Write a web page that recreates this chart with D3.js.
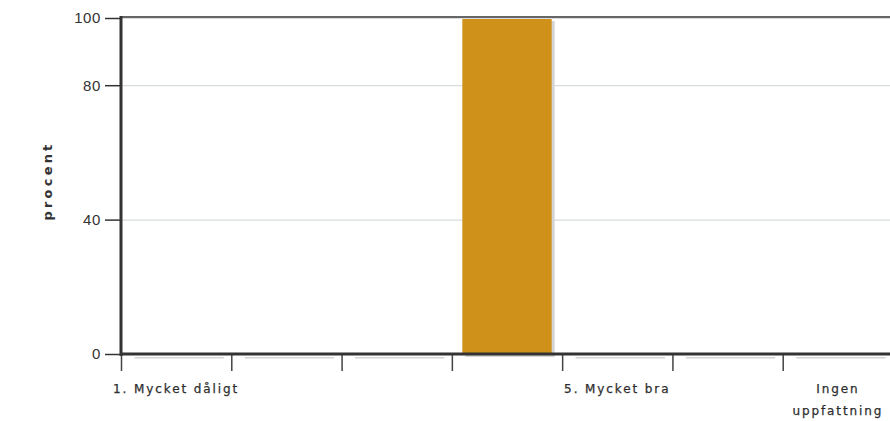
<!DOCTYPE html>
<html>
<head>
<meta charset="utf-8">
<script src="https://cdn.jsdelivr.net/npm/d3@7"></script>
<style>
  body { margin: 0; background: #fff; }
  svg text { font-family: "DejaVu Sans", sans-serif; fill: #333; }
</style>
</head>
<body>
<svg id="chart" width="890" height="421"></svg>
<script>
// data
const categories = ["1. Mycket dåligt", "", "", "", "5. Mycket bra", "", "Ingen uppfattning"];
const values = [0, 0, 0, 100, 0, 0, 0];
const yTicks = [0, 40, 80, 100];

const svg = d3.select("#chart");
const plotLeft = 121, plotRight = 893, plotTop = 18, plotBottom = 354;

const x = d3.scaleBand()
  .domain(d3.range(categories.length))
  .range([plotLeft, plotRight])
  .paddingInner(0.19)
  .paddingOuter(0.095);
const xb = d3.scaleBand().domain(d3.range(categories.length)).range([plotLeft, plotRight]);
const y = d3.scaleLinear().domain([0, 100]).range([plotBottom, plotTop]);

// grid
svg.append("g")
  .selectAll("line")
  .data(yTicks.filter((d) => d > 0))
  .join("line")
  .attr("x1", plotLeft).attr("x2", 890)
  .attr("y1", (d) => y(d) + 0.5).attr("y2", (d) => y(d) + 0.5)
  .attr("stroke", "#d8dde0").attr("stroke-width", 1.2);

// top frame
svg.append("line")
  .attr("x1", plotLeft).attr("x2", 890)
  .attr("y1", plotTop - 1).attr("y2", plotTop - 1)
  .attr("stroke", "#666").attr("stroke-width", 2);

// bar shadows (zero bars still leave a thin grey line under the axis)
svg.append("g")
  .selectAll("rect")
  .data(values)
  .join("rect")
  .attr("x", (d, i) => x(i) + 3)
  .attr("y", (d) => y(d) + 3)
  .attr("width", x.bandwidth())
  .attr("height", (d) => Math.max(1.5, plotBottom - y(d)))
  .attr("fill", "#d4d4d4");

// bars
svg.append("g")
  .selectAll("rect")
  .data(values)
  .join("rect")
  .attr("x", (d, i) => x(i))
  .attr("y", (d) => y(d) + 1)
  .attr("width", x.bandwidth())
  .attr("height", (d) => Math.max(0, plotBottom - y(d) - 1))
  .attr("fill", "#cf9119");

// y axis
const yAxis = svg.append("g")
  .attr("transform", `translate(${plotLeft},0)`)
  .call(d3.axisLeft(y).tickValues(yTicks).tickSize(16).tickPadding(4));
yAxis.select(".domain").remove();
yAxis.selectAll(".tick line").attr("stroke", "#333").attr("stroke-width", 1.5);
yAxis.selectAll(".tick text")
  .attr("font-size", 15).attr("fill", "#3a3a3a")
  .style("font-family", "'Liberation Sans', sans-serif").attr("letter-spacing", 0.6);

svg.append("line")
  .attr("x1", plotLeft).attr("x2", plotLeft)
  .attr("y1", plotTop - 2).attr("y2", plotBottom + 2)
  .attr("stroke", "#333").attr("stroke-width", 3);

// x axis ticks at band edges
svg.append("g")
  .selectAll("line")
  .data(d3.range(categories.length))
  .join("line")
  .attr("x1", (i) => xb(i) + 0.5).attr("x2", (i) => xb(i) + 0.5)
  .attr("y1", plotBottom).attr("y2", plotBottom + 17)
  .attr("stroke", "#444").attr("stroke-width", 1.5);

svg.append("line")
  .attr("x1", plotLeft).attr("x2", 890)
  .attr("y1", plotBottom).attr("y2", plotBottom)
  .attr("stroke", "#333").attr("stroke-width", 3);

// x labels, centred, wrapped when too wide
const xLabels = svg.append("g")
  .selectAll("text")
  .data(categories)
  .join("text")
  .attr("x", (d, i) => xb(i) + xb.bandwidth() / 2)
  .attr("y", 393)
  .attr("text-anchor", "middle")
  .attr("font-size", 12)
  .attr("fill", "#222")
  .attr("stroke", "#222")
  .attr("stroke-width", 0.25)
  .attr("letter-spacing", 1.9);
xLabels.each(function (d) {
  const t = d3.select(this);
  const words = d.split(" ");
  if (d.length > 16 && words.length > 1) {
    words.forEach((w, k) => {
      t.append("tspan").attr("x", t.attr("x")).attr("dy", k ? 22 : 0).text(w);
    });
  } else {
    t.text(d);
  }
});

// y label
svg.append("text")
  .attr("transform", "translate(52,181) rotate(-90)")
  .attr("text-anchor", "middle")
  .attr("font-size", 13)
  .attr("font-weight", "bold")
  .attr("fill", "#2a2a2a")
  .attr("letter-spacing", 3.2)
  .text("procent");
</script>
</body>
</html>
